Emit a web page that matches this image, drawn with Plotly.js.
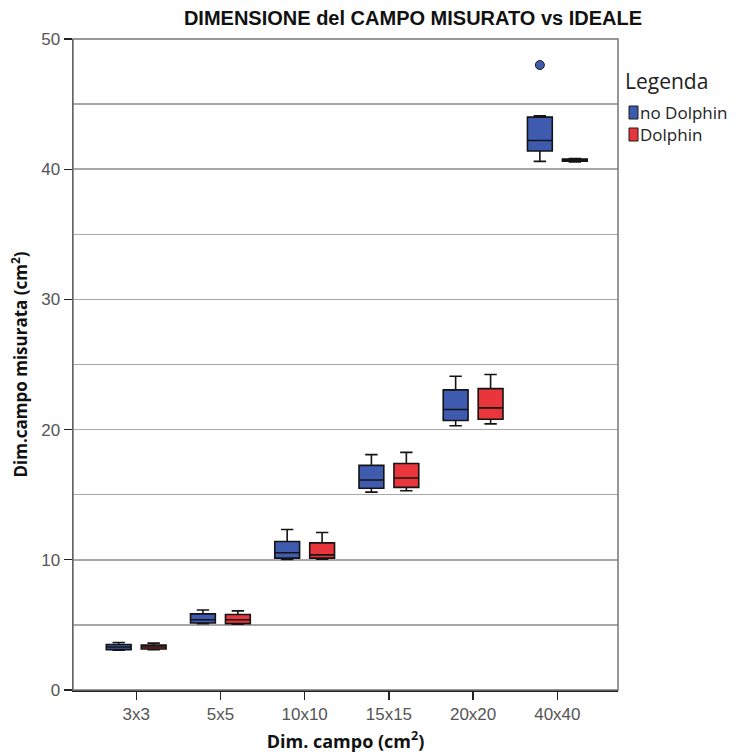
<!DOCTYPE html>
<html>
<head>
<meta charset="utf-8">
<script src="https://cdn.plot.ly/plotly-3.0.1.min.js"></script>
<style>html,body{margin:0;padding:0;background:#fff;}#chart{width:747px;height:756px;}</style>
</head>
<body>
<div id="chart"></div>
<script>
const categories = ['3x3','5x5','10x10','15x15','20x20','40x40'];

const noDolphinMin = [3.05, 5.10, 10.02, 15.20, 20.30, 40.60];
const noDolphinQ1  = [3.10, 5.15, 10.13, 15.50, 20.70, 41.40];
const noDolphinMed = [3.30, 5.40, 10.54, 16.13, 21.54, 42.20];
const noDolphinQ3  = [3.50, 5.85, 11.41, 17.25, 23.05, 44.00];
const noDolphinMax = [3.65, 6.15, 12.33, 18.08, 24.10, 44.10];
const noDolphinOutlierCategory = ['40x40'];
const noDolphinOutlierValue = [48.0];

const dolphinMin = [3.10, 5.05, 10.05, 15.30, 20.44, 40.55];
const dolphinQ1  = [3.15, 5.10, 10.13, 15.56, 20.80, 40.62];
const dolphinMed = [3.30, 5.40, 10.38, 16.28, 21.67, 40.70];
const dolphinQ3  = [3.45, 5.80, 11.30, 17.40, 23.15, 40.78];
const dolphinMax = [3.60, 6.08, 12.10, 18.25, 24.23, 40.82];

const seriesNames = ['no Dolphin', 'Dolphin'];
const seriesColors = ['#3f5bb0', '#e8363c'];

const BOXGAP = 0.17, BOXGROUPGAP = 0.29;
const XRANGE = [-0.75, 5.72];
// grouped-box offset of the first series (in category units)
const groupOffset = (1 - BOXGAP) / 4;

const traces = [
  {
    type: 'box', name: seriesNames[0], x: categories,
    q1: noDolphinQ1, median: noDolphinMed, q3: noDolphinQ3,
    lowerfence: noDolphinMin, upperfence: noDolphinMax,
    boxpoints: false,
    fillcolor: seriesColors[0],
    line: {color: '#141414', width: 1.6},
    whiskerwidth: 0.5, showlegend: false
  },
  {
    type: 'box', name: seriesNames[1], x: categories,
    q1: dolphinQ1, median: dolphinMed, q3: dolphinQ3,
    lowerfence: dolphinMin, upperfence: dolphinMax,
    boxpoints: false,
    fillcolor: seriesColors[1],
    line: {color: '#141414', width: 1.6},
    whiskerwidth: 0.5, showlegend: false
  },
  {
    type: 'scatter', mode: 'markers', name: seriesNames[0] + ' outlier',
    xaxis: 'x2', yaxis: 'y',
    x: noDolphinOutlierCategory.map(c => categories.indexOf(c) - groupOffset),
    y: noDolphinOutlierValue,
    marker: {color: seriesColors[0], size: 9, line: {color: '#1a1a1a', width: 1}},
    showlegend: false, hoverinfo: 'skip'
  }
];

const FONT_SANS = 'Liberation Sans, Arial, sans-serif';
const FONT_LEG = 'Open Sans, sans-serif';

// plot area in pixels (for placing the hand-made legend)
const PL = 73, PR = 618, PT = 39, PB = 690;
const px = v => (v - PL) / (PR - PL);
const py = v => (PB - v) / (PB - PT);

const layout = {
  width: 747, height: 756,
  margin: {l: PL, r: 747 - PR, t: PT, b: 756 - PB},
  paper_bgcolor: '#ffffff', plot_bgcolor: '#ffffff',
  boxmode: 'group', boxgap: BOXGAP, boxgroupgap: BOXGROUPGAP,
  showlegend: false,
  title: {
    text: 'DIMENSIONE del CAMPO MISURATO vs IDEALE',
    x: px(413), xanchor: 'center', xref: 'paper',
    y: 1 - 18 / 756, yanchor: 'middle',
    font: {family: FONT_SANS, size: 20, color: '#111', weight: 'bold'}
  },
  xaxis: {
    type: 'category', range: XRANGE,
    showline: true, linecolor: '#222', linewidth: 1.5,
    ticks: 'outside', ticklen: 8, tickcolor: '#222', tickwidth: 1.3,
    showgrid: false, zeroline: false,
    tickfont: {family: FONT_SANS, size: 17, color: '#555'},
    title: {text: '<b>Dim. campo (cm<sup>2</sup>)</b>', standoff: 12,
      font: {family: FONT_LEG, size: 18, color: '#111'}}
  },
  xaxis2: {
    type: 'linear', range: XRANGE, overlaying: 'x', visible: false
  },
  yaxis: {
    range: [0, 50], dtick: 10, tick0: 0,
    showline: true, linecolor: '#222', linewidth: 1.5,
    ticks: 'outside', ticklen: 8, tickcolor: '#222', tickwidth: 1.3,
    showgrid: true, gridcolor: '#a8a8a8', gridwidth: 1.5,
    minor: {dtick: 5, showgrid: true, gridcolor: '#a8a8a8', gridwidth: 1.5, ticks: ''},
    zeroline: false,
    tickfont: {family: FONT_SANS, size: 17, color: '#555'},
    title: {text: '<b>Dim.campo misurata (cm<sup>2</sup>)</b>', standoff: 9,
      font: {family: FONT_LEG, size: 17, color: '#111'}}
  },
  annotations: [
    {xref: 'paper', yref: 'paper', x: px(623), y: py(81),
     xanchor: 'left', yanchor: 'middle', showarrow: false, text: 'Legenda',
     font: {family: FONT_LEG, size: 21, color: '#222'}},
    {xref: 'paper', yref: 'paper', x: px(638), y: py(123),
     xanchor: 'left', yanchor: 'middle', align: 'left', showarrow: false,
     text: seriesNames.join('<br>'),
     font: {family: FONT_LEG, size: 17, color: '#222'}}
  ],
  shapes: [
    {type: 'rect', xref: 'paper', yref: 'paper', x0: 0, x1: 1, y0: 0, y1: 1,
     line: {color: '#777', width: 1.5}, fillcolor: 'rgba(0,0,0,0)', layer: 'above'},
    {type: 'rect', xref: 'paper', yref: 'paper',
     x0: px(629), x1: px(638), y0: py(119), y1: py(106),
     line: {color: '#1a1a1a', width: 1}, fillcolor: seriesColors[0]},
    {type: 'rect', xref: 'paper', yref: 'paper',
     x0: px(629), x1: px(638), y0: py(141), y1: py(128),
     line: {color: '#1a1a1a', width: 1}, fillcolor: seriesColors[1]}
  ]
};

Plotly.newPlot('chart', traces, layout, {displayModeBar: false, staticPlot: true});
</script>
</body>
</html>
